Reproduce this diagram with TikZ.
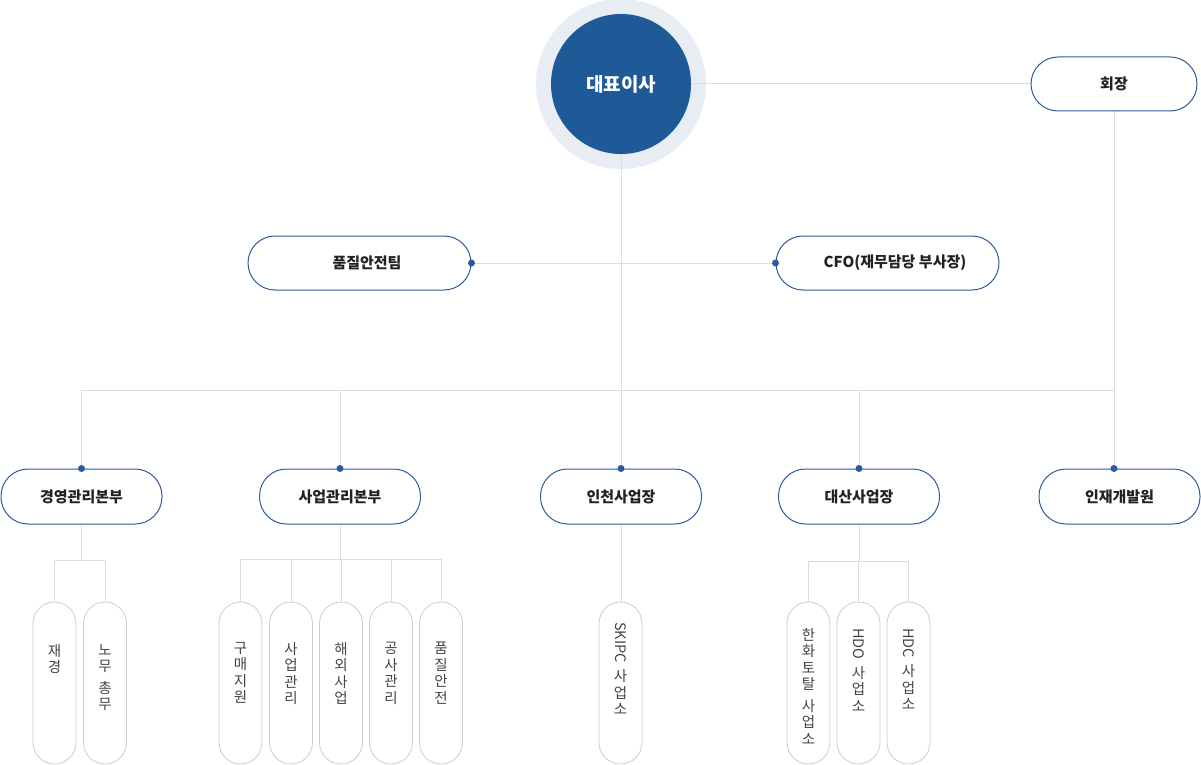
\documentclass[tikz,border=0pt]{standalone}
\usepackage{fontspec}
\setmainfont{Noto Sans CJK KR}
\usetikzlibrary{calc}
\definecolor{navy}{HTML}{1F5A98}
\definecolor{ringc}{HTML}{E8EDF4}
\definecolor{bord}{HTML}{2D5A9C}
\definecolor{connc}{HTML}{DDDDDD}
\definecolor{pillb}{HTML}{CCCCCC}
\definecolor{txt}{HTML}{222222}
\definecolor{ptxt}{HTML}{444444}
\pgfdeclarelayer{back}
\pgfdeclarelayer{mid}
\pgfsetlayers{back,mid,main}
\begin{document}
\begin{tikzpicture}[x=1pt,y=-1pt,
 unitbox/.style={draw=bord, line width=1pt, rounded corners=27pt, minimum width=161pt, minimum height=55pt, inner sep=0pt, text=txt, font=\fontsize{15}{18}\selectfont\bfseries},
 pill/.style={draw=pillb, line width=0.8pt, rounded corners=21.5pt, minimum width=43pt, minimum height=162pt, inner sep=0pt},
 ptext/.style={anchor=north, inner sep=0pt, align=center, text=ptxt, font=\fontsize{14.5}{16.5}\selectfont},
 link/.style={draw=connc, line width=1pt},
 dotc/.style={circle, fill=bord, inner sep=0pt, minimum size=7pt}]
\useasboundingbox (0,0) rectangle (1201,765);

\begin{pgfonlayer}{back}
\node[circle, fill=ringc, minimum size=170pt, inner sep=0pt] (ring) at (621,84) {};
\end{pgfonlayer}
\node[circle, fill=navy, minimum size=140pt, inner sep=0pt, text=white, font=\fontsize{19}{21}\selectfont\bfseries] (ceo) at (621,84) {대표이사};

\node[unitbox, minimum width=166pt, minimum height=54pt] (chair) at (1114,84) {회장};
\node[unitbox, minimum width=223pt, minimum height=54pt] (qs) at (359.5,263) {\hspace*{15pt}품질안전팀};
\node[unitbox, minimum width=223pt, minimum height=54pt] (cfo) at (887.5,263) {\hspace*{15pt}CFO(재무담당 부사장)};

\node[unitbox] (b1) at (81.5,496.5) {경영관리본부};
\node[unitbox] (b2) at (340,496.5) {사업관리본부};
\node[unitbox] (b3) at (621,496.5) {인천사업장};
\node[unitbox] (b4) at (859,496.5) {대산사업장};
\node[unitbox] (b5) at (1119.5,496.5) {인재개발원};

\node[pill] (p11) at (54.5,683) {};
\node[pill] (p12) at (105,683) {};
\node[pill] (p21) at (240.5,683) {};
\node[pill] (p22) at (291,683) {};
\node[pill] (p23) at (341,683) {};
\node[pill] (p24) at (391,683) {};
\node[pill] (p25) at (441,683) {};
\node[pill] (p31) at (620.5,683) {};
\node[pill] (p41) at (808.5,683) {};
\node[pill] (p42) at (858.5,683) {};
\node[pill] (p43) at (908.5,683) {};

\coordinate (hb) at (0,390);
\coordinate (j1) at (0,560);
\coordinate (j2) at (0,559);
\coordinate (j4) at (0,561);
\coordinate (t1) at (0,644);
\coordinate (t2) at (0,642);
\coordinate (t3) at (0,622);
\coordinate (t4) at (0,628);

\begin{pgfonlayer}{mid}
\draw[link] (ring.center) -- (chair.west);
\draw[link] (ceo.south) -- (ceo.south |- b3.north);
\draw[link] (chair.south) -- (chair.south |- b5.north);
\draw[link] (qs.east) -- (cfo.west);
\draw[link] (b1.north) |- (chair.south |- hb);
\draw[link] (b2.north) -- (b2.north |- hb);
\draw[link] (b4.north) -- (b4.north |- hb);
% group 1
\draw[link] (b1.south) -- (b1.south |- j1);
\draw[link] (p11.north) |- (p12.north |- j1) -- (p12.north);
% group 2
\draw[link] (b2.south) -- (b2.south |- j2);
\draw[link] (p21.north) |- (p25.north |- j2) -- (p25.north);
\draw[link] (p22.north) -- (p22.north |- j2);
\draw[link] (p23.north) -- (p23.north |- j2);
\draw[link] (p24.north) -- (p24.north |- j2);
% group 3
\draw[link] (b3.south) -- (b3.south |- p31.north);
% group 4
\draw[link] (b4.south) -- (b4.south |- j4);
\draw[link] (p41.north) |- (p43.north |- j4) -- (p43.north);
\draw[link] (p42.north) -- (p42.north |- j4);
\end{pgfonlayer}

\node[dotc] (d1) at (qs.east) {};
\node[dotc] (d2) at (cfo.west) {};
\node[dotc] (d3) at (b1.north) {};
\node[dotc] (d4) at (b2.north) {};
\node[dotc] (d5) at (ceo.south |- b3.north) {};
\node[dotc] (d6) at (b4.north) {};
\node[dotc] (d7) at (chair.south |- b5.north) {};

\node[ptext] (l11) at (p11.north |- t1) {재\\경};
\node[ptext] (l12) at (p12.north |- t1) {노\\무\\[5pt]총\\무};
\node[ptext] (l21) at (p21.north |- t2) {구\\매\\지\\원};
\node[ptext] (l22) at (p22.north |- t2) {사\\업\\관\\리};
\node[ptext] (l23) at (p23.north |- t2) {해\\외\\사\\업};
\node[ptext] (l24) at (p24.north |- t2) {공\\사\\관\\리};
\node[ptext] (l25) at (p25.north |- t2) {품\\질\\안\\전};
\node[ptext] (l31) at (p31.north |- t3) {\rotatebox{-90}{SKIPC}\\[6pt]사\\업\\소};
\node[ptext] (l41) at (p41.north |- t4) {한\\화\\토\\탈\\[5pt]사\\업\\소};
\node[ptext] (l42) at (p42.north |- t4) {\rotatebox{-90}{HDO}\\[6pt]사\\업\\소};
\node[ptext] (l43) at (p43.north |- t4) {\rotatebox{-90}{HDC}\\[6pt]사\\업\\소};
\end{tikzpicture}
\end{document}
